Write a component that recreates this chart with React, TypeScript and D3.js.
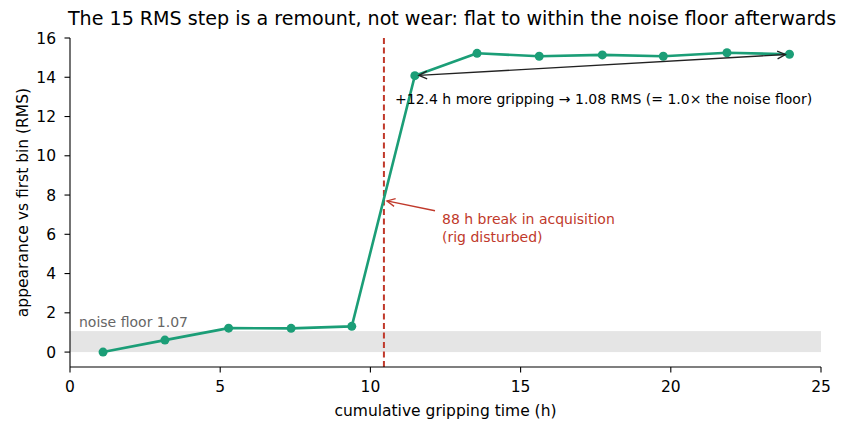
import React from "react";
import * as d3 from "d3";

const hours = [1.1, 3.16, 5.28, 7.36, 9.38, 11.48, 13.55, 15.62, 17.72, 19.75, 21.87, 23.95];
const rms = [0.0, 0.61, 1.22, 1.21, 1.31, 14.08, 15.22, 15.07, 15.14, 15.07, 15.25, 15.17];
const xTicks = [0, 5, 10, 15, 20, 25];
const yTicks = [0, 2, 4, 6, 8, 10, 12, 14, 16];
const noiseFloor = 1.07;
const breakAt = 10.45;
const titleText = "The 15 RMS step is a remount, not wear: flat to within the noise floor afterwards";
const xLabel = "cumulative gripping time (h)";
const yLabel = "appearance vs first bin (RMS)";
const noiseLabel = "noise floor 1.07";
const breakLabel = ["88 h break in acquisition", "(rig disturbed)"];
const spanLabel = "+12.4 h more gripping \u2192 1.08 RMS (= 1.0\u00d7 the noise floor)";

const W = 849, H = 432;
const L = 70, R = 821, T = 38, B = 367;
const FONT = "DejaVu Sans, sans-serif";
const GREEN = "#1b9e77";
const RED = "#c0392b";

export default function App() {
  const x = d3.scaleLinear().domain([0, 25]).range([L, R]);
  const y = d3.scaleLinear().domain([-0.76, 16]).range([B, T]);
  const line = d3.line<number>().x((_, i) => x(hours[i])).y((d) => y(d));
  const n = hours.length;
  const a0 = [x(hours[5]), y(rms[5])];
  const a1 = [x(hours[n - 1]), y(rms[n - 1])];
  const head = (p: number[], q: number[]) => {
    const ang = Math.atan2(p[1] - q[1], p[0] - q[0]);
    const len = 9, spread = 0.45;
    const l1 = [p[0] - len * Math.cos(ang - spread), p[1] - len * Math.sin(ang - spread)];
    const l2 = [p[0] - len * Math.cos(ang + spread), p[1] - len * Math.sin(ang + spread)];
    return `M${l1[0]},${l1[1]}L${p[0]},${p[1]}L${l2[0]},${l2[1]}`;
  };
  const shrink = (p: number[], q: number[], s: number) => {
    const dx = q[0] - p[0], dy = q[1] - p[1];
    const d = Math.hypot(dx, dy);
    return [p[0] + (dx / d) * s, p[1] + (dy / d) * s];
  };
  const p0 = shrink(a0, a1, 4);
  const p1 = shrink(a1, a0, 4);
  const rTip = [x(10.55), y(7.7)];
  const rTail = [x(12.15), y(7.2)];
  return (
    <svg width={W} height={H} style={{ display: "block", position: "absolute", left: 0, top: 0 }} fontFamily={FONT}>
      <rect width={W} height={H} fill="#fff" />
      <text x={452} y={25} textAnchor="middle" fontSize={19.1} fill="#000">{titleText}</text>
      <rect x={L} y={y(noiseFloor)} width={R - L} height={y(0) - y(noiseFloor)} fill="#e5e5e5" />
      <text x={x(0.3)} y={y(noiseFloor) - 4} fontSize={14} fill="#666">{noiseLabel}</text>
      <line x1={x(breakAt)} x2={x(breakAt)} y1={T} y2={B} stroke={RED} strokeWidth={2} strokeDasharray="6,3.5" />
      <path d={line(rms) || ""} fill="none" stroke={GREEN} strokeWidth={2.6} strokeLinejoin="round" />
      {rms.map((v, i) => (
        <circle key={i} cx={x(hours[i])} cy={y(v)} r={4.5} fill={GREEN} />
      ))}
      <line x1={p0[0]} y1={p0[1]} x2={p1[0]} y2={p1[1]} stroke="#222" strokeWidth={1.3} />
      <path d={head(p0, p1)} fill="none" stroke="#222" strokeWidth={1.3} />
      <path d={head(p1, p0)} fill="none" stroke="#222" strokeWidth={1.3} />
      <text x={395} y={104} fontSize={14} fill="#000">{spanLabel}</text>
      <line x1={rTail[0]} y1={rTail[1]} x2={rTip[0]} y2={rTip[1]} stroke={RED} strokeWidth={1.3} />
      <path d={head(rTip, rTail)} fill="none" stroke={RED} strokeWidth={1.3} />
      {breakLabel.map((s, i) => (
        <text key={i} x={442} y={224 + i * 17.5} fontSize={14} fill={RED}>{s}</text>
      ))}
      <line x1={L} x2={L} y1={T} y2={B} stroke="#000" strokeWidth={1.1} />
      <line x1={L} x2={R} y1={B} y2={B} stroke="#000" strokeWidth={1.1} />
      {xTicks.map((t) => (
        <g key={t}>
          <line x1={x(t)} x2={x(t)} y1={B} y2={B + 5.5} stroke="#000" strokeWidth={1.1} />
          <text x={x(t)} y={B + 24.5} textAnchor="middle" fontSize={15.5}>{t}</text>
        </g>
      ))}
      {yTicks.map((t) => (
        <g key={t}>
          <line x1={L - 5.5} x2={L} y1={y(t)} y2={y(t)} stroke="#000" strokeWidth={1.1} />
          <text x={L - 14} y={y(t) + 5.6} textAnchor="end" fontSize={15.5}>{t}</text>
        </g>
      ))}
      <text x={(L + R) / 2} y={415.5} textAnchor="middle" fontSize={15.5}>{xLabel}</text>
      <text transform={`translate(27.5,${(T + B) / 2}) rotate(-90)`} textAnchor="middle" fontSize={15.5}>{yLabel}</text>
    </svg>
  );
}
